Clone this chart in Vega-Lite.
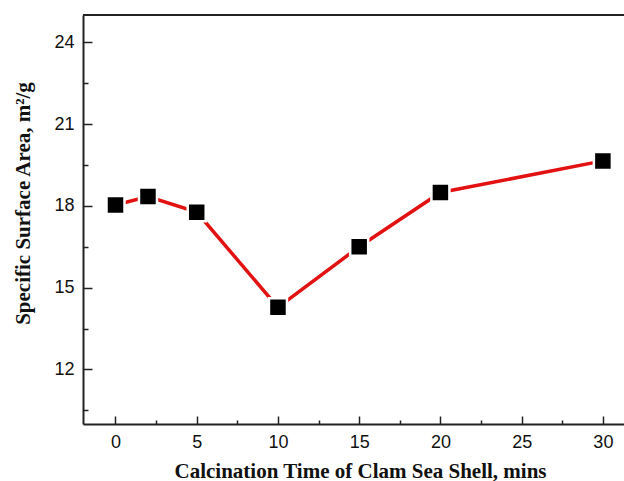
{
  "$schema": "https://vega.github.io/schema/vega-lite/v6.json",
  "autosize": {"type": "none"},
  "padding": {"left": 83, "top": 15, "right": 0, "bottom": 57},
  "width": 541,
  "height": 409,
  "background": "white",
  "config": {
    "view": {"stroke": null},
    "axis": {
      "grid": false,
      "domainColor": "#222222",
      "domainWidth": 2,
      "tickColor": "#222222",
      "tickWidth": 1.5,
      "labelFont": "Liberation Sans",
      "labelFontSize": 18,
      "labelColor": "#111111",
      "titleFont": "Liberation Serif",
      "titleFontWeight": "bold",
      "titleFontSize": 21,
      "titleColor": "#111111"
    }
  },
  "data": {
    "values": [
      {"time": 0, "area": 18.03},
      {"time": 2, "area": 18.34},
      {"time": 5, "area": 17.77},
      {"time": 10, "area": 14.28},
      {"time": 15, "area": 16.5},
      {"time": 20, "area": 18.49},
      {"time": 30, "area": 19.65}
    ]
  },
  "layer": [
    {
      "mark": {"type": "line", "color": "#e31212", "strokeWidth": 3.5},
      "encoding": {
        "x": {
          "field": "time", "type": "quantitative",
          "scale": {"domain": [-2, 31.3], "nice": false, "zero": false},
          "title": "Calcination Time of Clam Sea Shell, mins",
          "axis": {
            "values": [0, 2.5, 5, 7.5, 10, 12.5, 15, 17.5, 20, 22.5, 25, 27.5, 30],
            "labelExpr": "datum.value % 5 === 0 ? datum.label : ''",
            "tickSize": {"condition": {"test": "datum.value % 5 === 0", "value": -8}, "value": -4},
            "labelPadding": 17,
            "labelFlush": false,
            "labelOverlap": false,
            "titlePadding": 5,
            "titleX": 277
          }
        },
        "y": {
          "field": "area", "type": "quantitative",
          "scale": {"domain": [10, 25], "nice": false, "zero": false},
          "title": "Specific Surface Area, m²/g",
          "axis": {
            "values": [10.5, 12, 13.5, 15, 16.5, 18, 19.5, 21, 22.5, 24],
            "labelExpr": "datum.value % 3 === 0 ? datum.label : ''",
            "tickSize": {"condition": {"test": "datum.value % 3 === 0", "value": -9}, "value": -5},
            "labelPadding": 18,
            "labelFlush": false,
            "labelOverlap": false,
            "titlePadding": 20,
            "titleY": 188
          }
        }
      }
    },
    {
      "mark": {"type": "point", "shape": "square", "filled": true, "size": 324, "fill": "#000000", "stroke": "#ffffff", "strokeWidth": 2.5, "opacity": 1},
      "encoding": {
        "x": {"field": "time", "type": "quantitative"},
        "y": {"field": "area", "type": "quantitative"}
      }
    },
    {
      "mark": {"type": "rule", "color": "#222222", "strokeWidth": 2},
      "encoding": {
        "y": {"datum": 25, "type": "quantitative"}
      }
    }
  ]
}
